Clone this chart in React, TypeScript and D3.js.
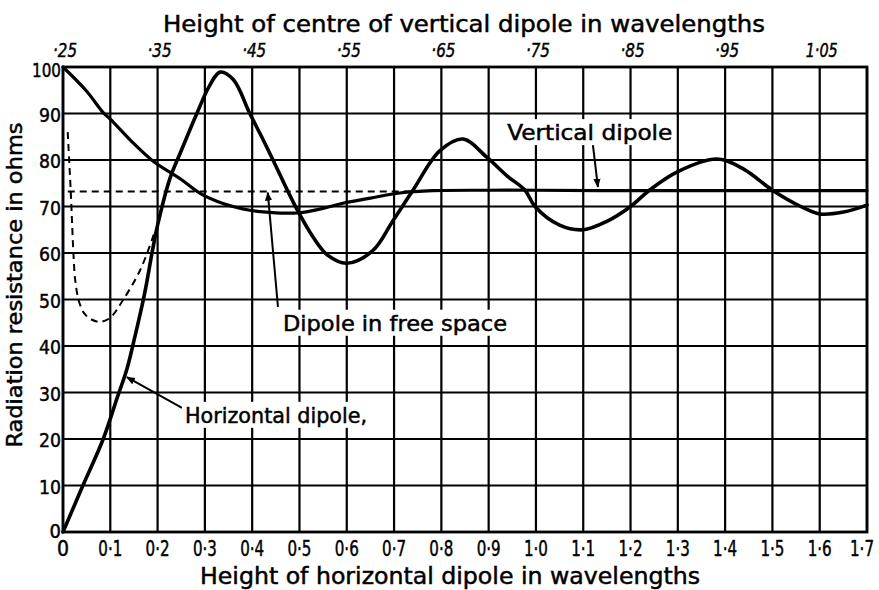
import React from "react";
import * as d3 from "d3";

// ---- Data ----
const horizontalH = [0, 0.04, 0.085, 0.115, 0.135, 0.152, 0.172, 0.19, 0.2, 0.226, 0.25, 0.283, 0.31, 0.332, 0.36, 0.395, 0.42, 0.444, 0.49, 0.529, 0.56, 0.6, 0.655, 0.698, 0.74, 0.797, 0.846, 0.896, 0.94, 0.977, 0.998, 1.05, 1.1, 1.15, 1.2, 1.24, 1.3, 1.383, 1.44, 1.5, 1.56, 1.6, 1.65, 1.7];
const horizontalR = [0, 9.5, 20, 29, 35, 42, 51, 61, 66, 76, 82, 90, 96, 98.9, 97.3, 90, 85, 80, 70.3, 63.4, 59.5, 57.8, 60.5, 67, 73.5, 82, 84.5, 80.6, 76.5, 73.5, 70, 66, 65, 66.8, 70, 73.5, 77.5, 80.2, 78, 73.5, 70, 68.4, 68.8, 70.3];

const verticalH = [0, 0.05, 0.085, 0.1, 0.15, 0.19, 0.25, 0.289, 0.34, 0.395, 0.431, 0.494, 0.55, 0.592, 0.65, 0.712, 0.782, 0.9, 1.0, 1.2, 1.4, 1.7];
const verticalR = [100, 94.8, 90.2, 88.8, 83.5, 79.8, 75.8, 72.9, 70.6, 69.2, 68.8, 68.6, 69.6, 70.7, 71.8, 72.9, 73.4, 73.5, 73.5, 73.4, 73.4, 73.4];

const nearGroundH = [0.01, 0.013, 0.016, 0.019, 0.022, 0.026, 0.034, 0.045, 0.06, 0.078, 0.099, 0.127, 0.163, 0.188, 0.195];
const nearGroundR = [86, 80, 74, 67, 60, 54, 49.5, 47, 45.7, 45.2, 46, 49.9, 56.3, 62.8, 65];

const freeSpaceH = [0.01, 0.74];
const freeSpaceR = [73.2, 73.2];

const bottomTicks = d3.range(0, 18).map((i) => i / 10);
const bottomTickLabels = ["0", "0·1", "0·2", "0·3", "0·4", "0·5", "0·6", "0·7", "0·8", "0·9", "1·0", "1·1", "1·2", "1·3", "1·4", "1·5", "1·6", "1·7"];
const topTicks = [0.25, 0.35, 0.45, 0.55, 0.65, 0.75, 0.85, 0.95, 1.05];
const topTickLabels = ["·25", "·35", "·45", "·55", "·65", "·75", "·85", "·95", "1·05"];
const leftTicks = d3.range(0, 101, 10);
const leftTickLabels = leftTicks.map((v) => String(v));

// annotations in data coordinates: [h, R]
const annotations = [
  { text: "Vertical dipole", at: [1.114, 86], len: 165, anchor: "middle", from: [1.1205, 83.2], to: [1.131, 74.2] },
  { text: "Dipole in free space", at: [0.702, 45], len: 224, anchor: "middle", from: [0.4545, 48.4], to: [0.433, 73.0] },
  { text: "Horizontal dipole,", at: [0.258, 25.2], len: 182, anchor: "start", from: [0.2516, 26.7], to: [0.135, 33.3] },
];

const FONT = "'Liberation Sans Narrow', 'DejaVu Sans Condensed', 'DejaVu Sans', sans-serif";

export default function App() {
  const W = 879, H = 590;
  const x = d3.scaleLinear().domain([0, 1.7]).range([63, 867]);
  const xTop = d3.scaleLinear().domain([0.25, 1.1]).range([63, 867]);
  const y = d3.scaleLinear().domain([0, 100]).range([532, 67]);

  const line = d3
    .line<[number, number]>()
    .x((d) => x(d[0]))
    .y((d) => y(d[1]))
    .curve(d3.curveCatmullRom.alpha(0.5));

  const zip = (a: number[], b: number[]) => a.map((v, i) => [v, b[i]] as [number, number]);
  const ink = { fill: "#000", stroke: "#000", strokeWidth: 0.45 };

  return (
    <svg width={W} height={H} style={{ position: "absolute", left: 0, top: 0, background: "#fff" }} fontFamily={FONT}>
      <defs>
        <marker id="ah" viewBox="0 0 10 10" refX="9" refY="5" markerWidth="9" markerHeight="9" orient="auto-start-reverse" markerUnits="userSpaceOnUse">
          <path d="M0,1 L10,5 L0,9 Z" fill="#000" />
        </marker>
      </defs>
      <rect x={0} y={0} width={W} height={H} fill="#fff" />

      {/* grid */}
      {bottomTicks.map((t) => (
        <line key={"v" + t} x1={x(t)} x2={x(t)} y1={y(100)} y2={y(0)} stroke="#000" strokeWidth={2.2} />
      ))}
      {leftTicks.map((t) => (
        <line key={"h" + t} x1={x(0)} x2={x(1.7)} y1={y(t)} y2={y(t)} stroke="#000" strokeWidth={2.2} />
      ))}
      <rect x={x(0)} y={y(100)} width={x(1.7) - x(0)} height={y(0) - y(100)} fill="none" stroke="#000" strokeWidth={2.8} />

      {/* curves */}
      <path d={line(zip(freeSpaceH, freeSpaceR)) || ""} fill="none" stroke="#000" strokeWidth={2} strokeDasharray="7,5" />
      <path d={line(zip(nearGroundH, nearGroundR)) || ""} fill="none" stroke="#000" strokeWidth={2} strokeDasharray="7,5" />
      <path d={line(zip(verticalH, verticalR)) || ""} fill="none" stroke="#000" strokeWidth={3.2} strokeLinejoin="round" strokeLinecap="round" />
      <path d={line(zip(horizontalH, horizontalR)) || ""} fill="none" stroke="#000" strokeWidth={3.6} strokeLinejoin="round" strokeLinecap="round" />

      {/* annotations */}
      {annotations.map((a) => (
        <g key={a.text}>
          <line x1={x(a.from[0])} y1={y(a.from[1])} x2={x(a.to[0])} y2={y(a.to[1])} stroke="#000" strokeWidth={2} markerEnd="url(#ah)" />
          <rect
            x={a.anchor === "middle" ? x(a.at[0]) - a.len / 2 - 3 : x(a.at[0]) - 3}
            y={y(a.at[1]) - 13}
            width={a.len + 6}
            height={26}
            fill="#fff"
          />
          <text x={x(a.at[0])} y={y(a.at[1]) + 8} fontSize={21} textAnchor={a.anchor} textLength={a.len} lengthAdjust="spacingAndGlyphs" {...ink}>
            {a.text}
          </text>
        </g>
      ))}

      {/* bottom tick labels */}
      {bottomTicks.map((t, i) => {
        const lab = bottomTickLabels[i];
        const last = i === bottomTicks.length - 1;
        return (
          <text
            key={"bl" + i}
            x={last ? x(t) - 5 : x(t)}
            y={556}
            fontSize={21}
            textAnchor="middle"
            textLength={lab.length > 1 ? 24 : undefined}
            lengthAdjust="spacingAndGlyphs"
            {...ink}
          >
            {lab}
          </text>
        );
      })}
      {/* top tick labels */}
      {topTicks.map((t, i) => (
        <text
          key={"tl" + i}
          x={xTop(t) + 2}
          y={57}
          fontSize={19}
          textAnchor="middle"
          fontStyle="italic"
          textLength={topTickLabels[i].length > 3 ? 32 : 24}
          lengthAdjust="spacingAndGlyphs"
          {...ink}
        >
          {topTickLabels[i]}
        </text>
      ))}
      {/* left tick labels */}
      {leftTicks.map((t, i) => {
        const lab = leftTickLabels[i];
        return (
          <text
            key={"ll" + i}
            x={61}
            y={y(t) + (t === 0 ? 6 : t === 100 ? 10 : 8)}
            fontSize={20}
            textAnchor="end"
            textLength={lab.length === 3 ? 29 : lab.length === 2 ? 22 : undefined}
            lengthAdjust="spacingAndGlyphs"
            {...ink}
          >
            {lab}
          </text>
        );
      })}

      {/* titles */}
      <text x={464} y={32} fontSize={23} textAnchor="middle" textLength={602} lengthAdjust="spacingAndGlyphs" {...ink}>
        Height of centre of vertical dipole in wavelengths
      </text>
      <text x={450} y={584} fontSize={23} textAnchor="middle" textLength={500} lengthAdjust="spacingAndGlyphs" {...ink}>
        Height of horizontal dipole in wavelengths
      </text>
      <text transform="translate(22,285) rotate(-90)" fontSize={21} textAnchor="middle" textLength={325} lengthAdjust="spacingAndGlyphs" {...ink}>
        Radiation resistance in ohms
      </text>
    </svg>
  );
}
